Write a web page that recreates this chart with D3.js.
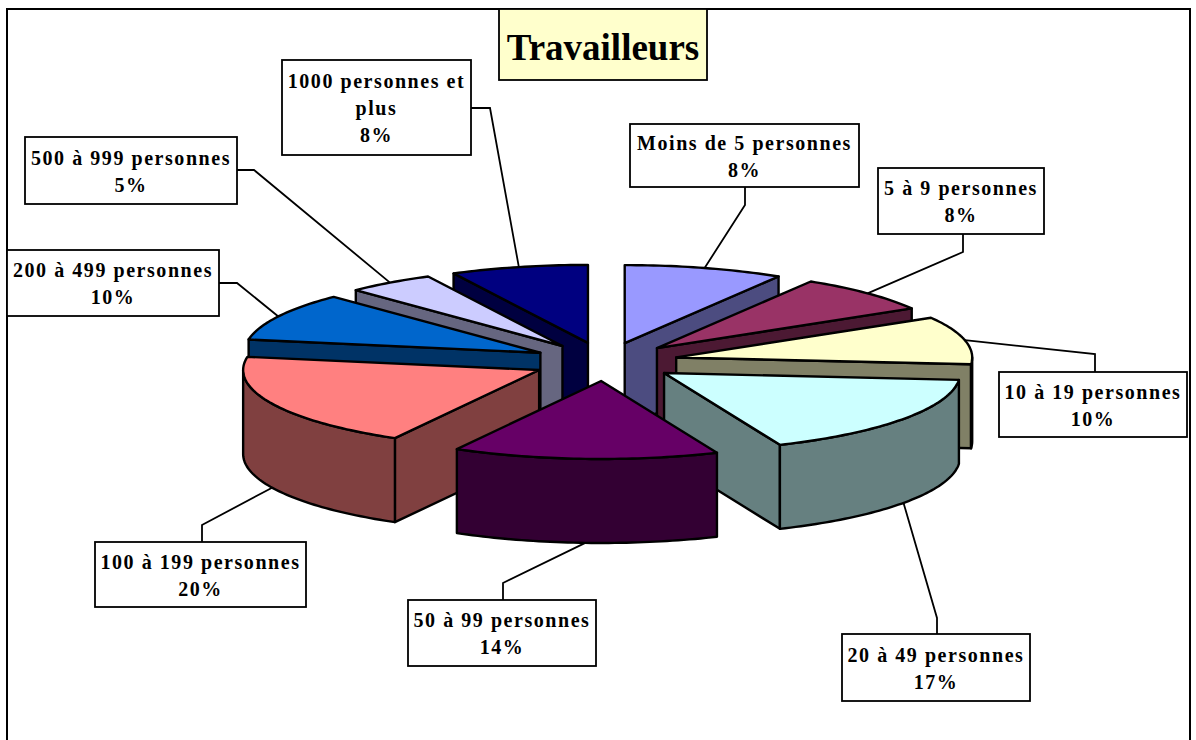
<!DOCTYPE html>
<html lang="fr">
<head>
<meta charset="utf-8">
<title>Travailleurs</title>
<style>
html,body{margin:0;padding:0;background:#fff;overflow:hidden}
svg{display:block}
text{font-family:"Liberation Serif","Times New Roman",serif;font-weight:bold;fill:#000}
</style>
<script src="https://cdn.jsdelivr.net/npm/d3@7/dist/d3.min.js"></script>
</head>
<body>
<svg id="chart" width="1196" height="740"></svg>
<script>
const chartTitle = "Travailleurs";
const categories = ["Moins de 5 personnes","5 à 9 personnes","10 à 19 personnes","20 à 49 personnes","50 à 99 personnes","100 à 199 personnes","200 à 499 personnes","500 à 999 personnes","1000 personnes et plus"];
const values = [8.7,7.8,9.9,17.2,14.5,19.6,10,4.8,7.5];
const percentLabels = ["8%","8%","10%","17%","14%","20%","10%","5%","8%"];
const topColors = ["#9999FF","#993366","#FFFFCC","#CCFFFF","#660066","#FF8080","#0066CC","#CCCCFF","#000080"];
const wallColors = ["#4C4C80","#4C1933","#808066","#668080","#330033","#804040","#003366","#666680","#000040"];

// layout of the callouts: box [x, y, w, h], elbow of leader, end of leader, wrapped lines
const calloutBoxes = [[630,124,229,63],[878,168,166,66],[999,372,188,65],[842,634,188,67],[408,600,188,66],[95,542,211,65],[7,250,212,66],[25,137,212,67],[282,60,189,95]];
const calloutElbows = [[745,205],[963,252],[1095,354],[937,618],[503,583],[202,525],[237,283],[254,170],[490,108]];
const calloutEnds = [[745,187],[963,234],[1095,372],[937,634],[503,600],[202,542],[219,283],[237,170],[471,108]];
const calloutLines = [[categories[0]],[categories[1]],[categories[2]],[categories[3]],[categories[4]],[categories[5]],[categories[6]],[categories[7]],["1000 personnes et","plus"]];

const cx = 605, cy = 361.7, rx = 296, ry = 78, depth = 84, explodeX = 73, explodeY = 19.3;
const svg = d3.select("#chart");

const pie = d3.pie().sort(null).value(d => d);
const arcs = pie(values).map((a, i) => {
  const mid = (a.startAngle + a.endAngle) / 2;
  return {i, a0: a.startAngle, a1: a.endAngle, mid,
    ax: cx + explodeX * Math.sin(mid), ay: cy - explodeY * Math.cos(mid)};
});
const pt = (s, t, dz = 0) => [s.ax + rx * Math.sin(t), s.ay - ry * Math.cos(t) + dz];
const sweep = (t0, t1) => { const n = Math.max(2, Math.ceil((t1 - t0) / 0.02)); return d3.range(n + 1).map(k => t0 + (t1 - t0) * k / n); };
const line = d3.line();
const closed = pts => line(pts) + "Z";

const paint = svg.append("g").attr("stroke", "#000").attr("stroke-width", 2.4).attr("stroke-linejoin", "round");
const order = arcs.slice().sort((p, q) => d3.ascending(p.ay, q.ay));

const slices = paint.selectAll("g.slice").data(order).join("g").attr("class", "slice");
slices.each(function (s) {
  const g = d3.select(this);
  const wall = pts => g.append("path").attr("d", closed(pts)).attr("fill", wallColors[s.i]);
  const radial = t => wall([[s.ax, s.ay], pt(s, t), pt(s, t, depth), [s.ax, s.ay + depth]]);
  if (Math.sin(s.a0) < -1e-6) radial(s.a0);
  if (Math.sin(s.a1) > 1e-6) radial(s.a1);
  const f0 = Math.max(s.a0, Math.PI / 2), f1 = Math.min(s.a1, 3 * Math.PI / 2);
  if (f1 > f0) {
    const ts = sweep(f0, f1);
    wall(ts.map(t => pt(s, t)).concat(ts.slice().reverse().map(t => pt(s, t, depth))));
  }
  g.append("path")
    .attr("d", closed([[s.ax, s.ay]].concat(sweep(s.a0, s.a1).map(t => pt(s, t)))))
    .attr("fill", topColors[s.i]);
});

// frame
svg.append("rect").attr("x", 7).attr("y", 9).attr("width", 1183).attr("height", 760)
  .attr("fill", "none").attr("stroke", "#000").attr("stroke-width", 2);

// leaders
svg.append("g").attr("fill", "none").attr("stroke", "#000").attr("stroke-width", 1.8)
  .selectAll("path").data(arcs).join("path")
  .attr("d", s => {
    const front = Math.cos(s.mid) < 0 ? depth : 0;
    return line([pt(s, s.mid, front), calloutElbows[s.i], calloutEnds[s.i]]);
  });

// callouts
const callouts = svg.append("g").selectAll("g").data(arcs).join("g");
callouts.append("rect")
  .attr("x", s => calloutBoxes[s.i][0]).attr("y", s => calloutBoxes[s.i][1])
  .attr("width", s => calloutBoxes[s.i][2]).attr("height", s => calloutBoxes[s.i][3])
  .attr("fill", "#fff").attr("stroke", "#000").attr("stroke-width", 1.8);
callouts.each(function (s) {
  const [x, y, w, h] = calloutBoxes[s.i];
  const rows = calloutLines[s.i].concat(percentLabels[s.i]);
  const lh = 27;
  const top = y + h / 2 - rows.length * lh / 2 + 21;
  d3.select(this).selectAll("text").data(rows).join("text")
    .attr("x", x + w / 2).attr("y", (d, k) => top + k * lh)
    .attr("text-anchor", "middle").attr("font-size", 20).attr("letter-spacing", 1.55)
    .text(d => d);
});

// title
svg.append("rect").attr("x", 499).attr("y", 9).attr("width", 208).attr("height", 71)
  .attr("fill", "#FFFFCC").attr("stroke", "#000").attr("stroke-width", 1.8);
svg.append("text").attr("x", 603).attr("y", 60).attr("text-anchor", "middle")
  .attr("font-size", 37).text(chartTitle);
</script>
</body>
</html>
